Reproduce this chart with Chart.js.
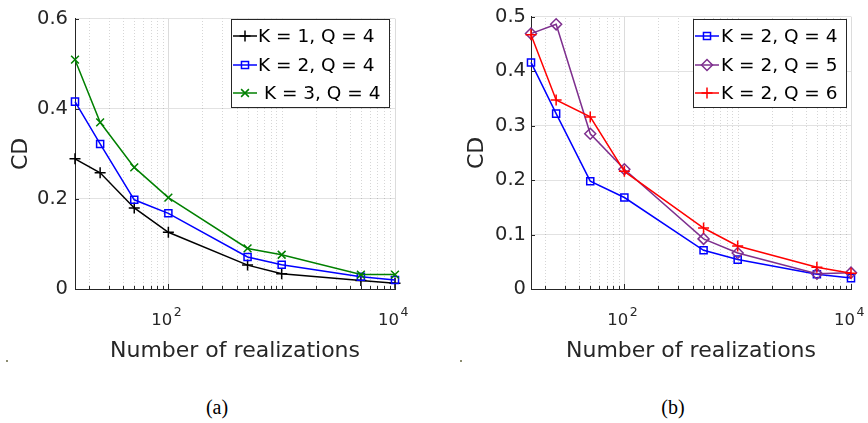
<!DOCTYPE html>
<html><head><meta charset="utf-8">
<script src="https://cdn.jsdelivr.net/npm/chart.js@4.4.1/dist/chart.umd.min.js"></script>
<style>
html,body{margin:0;padding:0;background:#fff;}
body{width:868px;height:423px;position:relative;overflow:hidden;}
canvas{position:absolute;top:0;}
#ca{left:0;} #cb{left:434px;}
.cap{position:absolute;font-family:'Liberation Serif','Times New Roman',serif;font-size:20px;color:#000;top:396px;transform:translateX(-50%);white-space:nowrap;}
.dot{position:absolute;width:2px;height:2px;background:#8c8c70;}
</style></head><body>
<canvas id="ca" width="434" height="370"></canvas>
<canvas id="cb" width="434" height="370"></canvas>
<div class="cap" style="left:217px">(a)</div>
<div class="cap" style="left:673px">(b)</div>
<div class="dot" style="left:6px;top:360px"></div>
<div class="dot" style="left:460px;top:360px"></div>
<script>
// ---- data ----
const realizations = [15, 25, 50, 100, 500, 1000, 5000, 10000];
const cdK1Q4 = [0.289, 0.258, 0.180, 0.126, 0.053, 0.034, 0.019, 0.013];
const cdK2Q4 = [0.416, 0.322, 0.198, 0.168, 0.071, 0.054, 0.027, 0.020];
const cdK3Q4 = [0.509, 0.370, 0.270, 0.203, 0.090, 0.076, 0.032, 0.032];
const cdK2Q5 = [0.469, 0.486, 0.285, 0.220, 0.092, 0.066, 0.028, 0.030];
const cdK2Q6 = [0.467, 0.347, 0.316, 0.216, 0.112, 0.079, 0.040, 0.029];
const labelsA = ['K = 1, Q = 4', 'K = 2, Q = 4', ' K = 3, Q = 4'];
const labelsB = ['K = 2, Q = 4', 'K = 2, Q = 5', 'K = 2, Q = 6'];
const xTickValues = [20, 30, 40, 50, 60, 70, 80, 90, 100, 200, 300, 400, 500, 600, 700, 800, 900,
  1000, 2000, 3000, 4000, 5000, 6000, 7000, 8000, 9000, 10000];
// tick label = base + superscript exponent
const xTickLabels = {100: ['10', '2'], 10000: ['10', '4']};
const yTicksA = [0, 0.2, 0.4, 0.6];
const yTicksB = [0, 0.1, 0.2, 0.3, 0.4, 0.5];

Chart.defaults.font.family = "'DejaVu Sans', 'Liberation Sans', sans-serif";
Chart.defaults.color = '#262626';

const pts = vals => realizations.map((x, i) => ({x: x, y: vals[i]}));

function drawMarker(ctx, style, r, x, y) {
  if (Chart.helpers && Chart.helpers.drawPoint) {
    Chart.helpers.drawPoint(ctx, {pointStyle: style, radius: r, rotation: 0, borderWidth: ctx.lineWidth}, x, y);
    return;
  }
  ctx.beginPath();
  if (style === 'cross') { ctx.moveTo(x - r, y); ctx.lineTo(x + r, y); ctx.moveTo(x, y - r); ctx.lineTo(x, y + r); }
  else if (style === 'crossRot') { const d = r * Math.SQRT1_2; ctx.moveTo(x - d, y - d); ctx.lineTo(x + d, y + d); ctx.moveTo(x - d, y + d); ctx.lineTo(x + d, y - d); }
  else if (style === 'rect') { const d = r * Math.SQRT1_2; ctx.rect(x - d, y - d, 2 * d, 2 * d); }
  else if (style === 'rectRot') { ctx.moveTo(x - r, y); ctx.lineTo(x, y - r); ctx.lineTo(x + r, y); ctx.lineTo(x, y + r); ctx.closePath(); }
  ctx.stroke();
}

const matlabPlugin = {
  id: 'matlab',
  beforeDatasetsDraw(chart) {
    const {ctx, chartArea: {top, bottom}} = chart;
    const xs = chart.scales.x;
    ctx.save();
    ctx.strokeStyle = 'rgba(0,0,0,0.16)';
    ctx.lineWidth = 1;
    ctx.setLineDash([1, 2]);
    xs.ticks.forEach(t => {
      if (!xTickLabels[t.value]) {
        const px = Math.round(xs.getPixelForValue(t.value)) + 0.5;
        ctx.beginPath(); ctx.moveTo(px, bottom); ctx.lineTo(px, top); ctx.stroke();
      }
    });
    ctx.restore();
  },
  afterDatasetsDraw(chart, args, opts) {
    const {ctx, chartArea: {top, bottom, left}} = chart;
    const xs = chart.scales.x, ys = chart.scales.y;
    ctx.save();
    ctx.strokeStyle = '#262626';
    ctx.lineWidth = 1;
    xs.ticks.forEach(t => {
      const px = Math.round(xs.getPixelForValue(t.value)) + 0.5;
      const len = xTickLabels[t.value] ? 5 : 3;
      ctx.beginPath(); ctx.moveTo(px, bottom); ctx.lineTo(px, bottom - len); ctx.stroke();
    });
    ys.ticks.forEach(t => {
      const py = Math.round(ys.getPixelForValue(t.value)) + 0.5;
      ctx.beginPath(); ctx.moveTo(left, py); ctx.lineTo(left + 4, py); ctx.stroke();
    });
    // x tick labels with superscript exponent
    ctx.fillStyle = '#262626';
    ctx.textBaseline = 'alphabetic';
    ctx.textAlign = 'left';
    Object.keys(xTickLabels).forEach(k => {
      const px = xs.getPixelForValue(Number(k));
      const [base, sup] = xTickLabels[k];
      ctx.font = "16.5px 'DejaVu Sans'";
      const bw = ctx.measureText(base).width;
      const x0 = px - 17;
      ctx.fillText(base, x0, bottom + 36);
      ctx.font = "12.5px 'DejaVu Sans'";
      ctx.fillText(sup, x0 + bw + 1.5, bottom + 27);
    });
    // legend
    const L = opts;
    ctx.fillStyle = '#fff';
    ctx.fillRect(L.x, L.y, L.w, L.h);
    ctx.strokeStyle = '#262626';
    ctx.strokeRect(L.x + 0.5, L.y + 0.5, L.w, L.h);
    ctx.font = "18.5px 'DejaVu Sans'";
    ctx.textBaseline = 'middle';
    ctx.textAlign = 'left';
    chart.data.datasets.forEach((ds, i) => {
      const y = L.rows[i];
      ctx.strokeStyle = ds.borderColor;
      ctx.lineWidth = 1.5;
      ctx.beginPath(); ctx.moveTo(L.lx0, y); ctx.lineTo(L.lx1, y); ctx.stroke();
      ctx.fillStyle = 'rgba(0,0,0,0)';
      drawMarker(ctx, ds.pointStyle, ds.pointRadius, (L.lx0 + L.lx1) / 2, y);
      ctx.fillStyle = '#000';
      ctx.fillText(ds.label, L.tx, y + 1);
    });
    ctx.restore();
  }
};

function makeDataset(label, vals, color, style, r, idx) {
  return {
    label: label, data: pts(vals), borderColor: color, backgroundColor: color,
    borderWidth: 1.5, tension: 0, pointStyle: style, pointRadius: r,
    pointBorderWidth: 1.5, pointBackgroundColor: 'rgba(0,0,0,0)', pointBorderColor: color,
    pointHoverRadius: r, clip: false, order: -idx
  };
}

function makeChart(id, datasets, yMax, yTicks, yWidth, yTitlePad, yLabelPad, padRight, legend) {
  return new Chart(document.getElementById(id), {
    type: 'line',
    data: {datasets: datasets},
    plugins: [matlabPlugin],
    options: {
      responsive: false, animation: false, devicePixelRatio: 1,
      layout: {padding: {left: 0, right: padRight, top: 12, bottom: 0}},
      plugins: {legend: {display: false}, tooltip: {enabled: false}, matlab: legend},
      scales: {
        x: {
          type: 'logarithmic', min: 15, max: 10000,
          afterBuildTicks: s => { s.ticks = xTickValues.map(v => ({value: v, major: false})); },
          afterFit: s => { s.height = 81; },
          grid: {drawTicks: false, lineWidth: 1,
            color: c => (c.tick && xTickLabels[c.tick.value]) ? '#dcdcdc' : 'rgba(0,0,0,0)'},
          border: {display: true, color: '#262626', width: 1},
          ticks: {autoSkip: false, maxRotation: 0, minRotation: 0, padding: 17, color: '#262626',
            font: {size: 16}, callback: () => ''},
          title: {display: true, text: 'Number of realizations', color: '#262626',
            font: {size: 22}, padding: {top: 0, bottom: 6}}
        },
        y: {
          min: 0, max: yMax,
          afterBuildTicks: s => { s.ticks = yTicks.map(v => ({value: v})); },
          afterFit: s => { s.width = yWidth; },
          grid: {drawTicks: false, color: '#e2e2e2', lineWidth: 1},
          border: {display: true, color: '#262626', width: 1},
          ticks: {padding: yLabelPad, color: '#262626', font: {size: 19.5},
            callback: v => v === 0 ? '0' : (Math.round(v * 10) / 10).toFixed(1)},
          title: {display: true, text: 'CD', color: '#262626', font: {size: 22},
            padding: {top: yTitlePad, bottom: 0}}
        }
      }
    }
  });
}

makeChart('ca', [
  makeDataset(labelsA[0], cdK1Q4, '#000000', 'cross', 5.5, 0),
  makeDataset(labelsA[1], cdK2Q4, '#0000ff', 'rect', 5, 1),
  makeDataset(labelsA[2], cdK3Q4, '#008000', 'crossRot', 5.5, 2)
], 0.6, yTicksA, 75, 8, 7, 39,
  {x: 231, y: 19, w: 158, h: 88, rows: [36, 65, 93], lx0: 233, lx1: 257, tx: 258});

makeChart('cb', [
  makeDataset(labelsB[0], cdK2Q4, '#0000ff', 'rect', 5, 0),
  makeDataset(labelsB[1], cdK2Q5, '#7e2f8e', 'rectRot', 5.5, 1),
  makeDataset(labelsB[2], cdK2Q6, '#ff0000', 'cross', 5.5, 2)
], 0.5, yTicksB, 97, 30, 5, 17,
  {x: 259, y: 19, w: 153, h: 88, rows: [36, 65, 93], lx0: 261, lx1: 285, tx: 287});
</script>
</body></html>
